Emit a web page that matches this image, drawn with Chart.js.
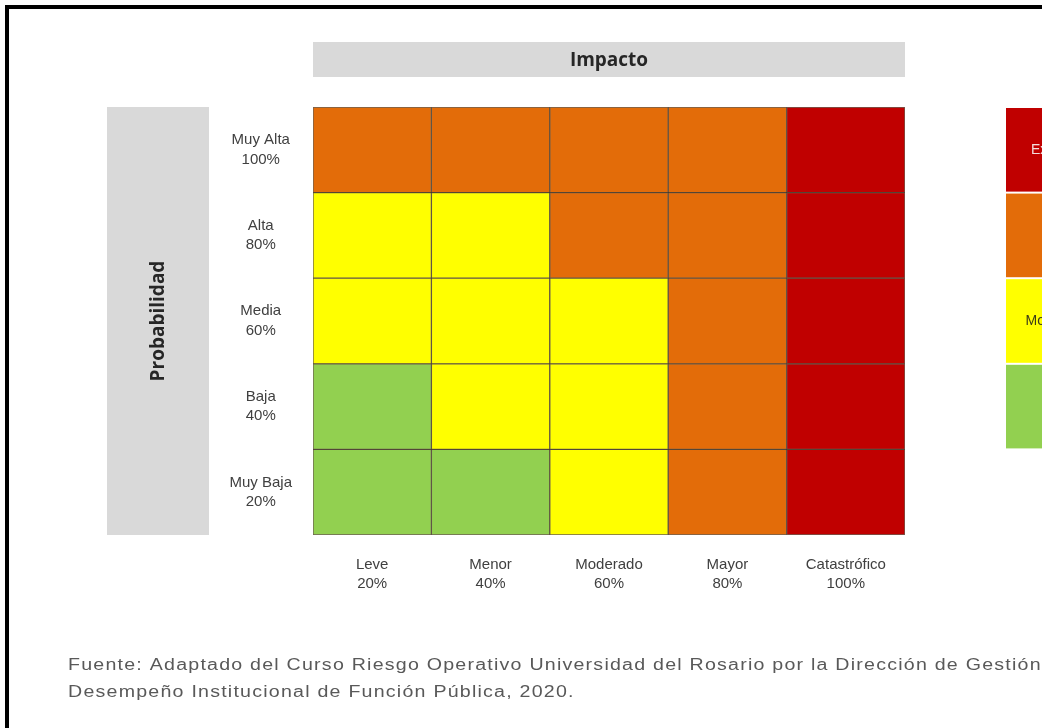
<!DOCTYPE html>
<html>
<head>
<meta charset="utf-8">
<script src="https://cdn.jsdelivr.net/npm/chart.js@4.4.1/dist/chart.umd.min.js"></script>
<style>
  body { margin: 0; background: #fff; }
  #wrap { position: relative; width: 1042px; height: 728px; overflow: hidden; }
</style>
</head>
<body>
<div id="wrap"><canvas id="matriz" width="1042" height="728"></canvas></div>
<script>
// Ejes
const impacto = ["Leve", "Menor", "Moderado", "Mayor", "Catastrófico"];
const impactoPct = ["20%", "40%", "60%", "80%", "100%"];
const probabilidad = ["Muy Alta", "Alta", "Media", "Baja", "Muy Baja"]; // de arriba a abajo
const probabilidadPct = ["100%", "80%", "60%", "40%", "20%"];

// Zonas de riesgo
const zonas = ["Extremo", "Alto", "Moderado", "Bajo"];
const zonaColor = { Extremo: "#c00000", Alto: "#e36c09", Moderado: "#ffff00", Bajo: "#92d050" };
const zonaTexto = { Extremo: "#f4dede", Alto: "#ffffff", Moderado: "#3a3a1a", Bajo: "#333333" };

// Matriz (filas de arriba a abajo, columnas Leve -> Catastrófico)
const matriz = [
    ["Alto", "Alto", "Alto", "Alto", "Extremo"],
    ["Moderado", "Moderado", "Alto", "Alto", "Extremo"],
    ["Moderado", "Moderado", "Moderado", "Alto", "Extremo"],
    ["Bajo", "Moderado", "Moderado", "Alto", "Extremo"],
    ["Bajo", "Bajo", "Moderado", "Alto", "Extremo"]
];

const fuente = [
    "Fuente: Adaptado del Curso Riesgo Operativo Universidad del Rosario por la Dirección de Gestión",
    "Desempeño Institucional de Función Pública, 2020."
];

const labelFont = { family: "'Liberation Sans Narrow', 'Liberation Sans', Arial", size: 15 };

// una serie por fila, desde abajo
const datasets = probabilidad.slice().reverse().map((p, i) => {
    const fila = matriz[probabilidad.length - 1 - i];
    return {
        label: p,
        data: impacto.map(() => 1),
        backgroundColor: fila.map(z => zonaColor[z]),
        borderColor: "rgba(45, 30, 10, 0.7)",
        borderWidth: 1,
        borderSkipped: false,
        barPercentage: 1,
        categoryPercentage: 1
    };
});

// Fondo, cajas grises y marco
const decoracion = {
    id: "decoracion",
    beforeDraw(chart) {
        const { ctx, chartArea: a } = chart;
        ctx.save();
        ctx.fillStyle = "#fff";
        ctx.fillRect(0, 0, chart.width, chart.height);

        ctx.fillStyle = "#d9d9d9";
        ctx.fillRect(a.left, 42, a.right - a.left, 35);
        ctx.fillRect(107, a.top, 102, a.bottom - a.top);

        ctx.fillStyle = "#262626";
        ctx.font = "bold 19px 'Open Sans'";
        ctx.textAlign = "center";
        ctx.textBaseline = "middle";
        ctx.fillText("Impacto", (a.left + a.right) / 2, 61);

        ctx.translate(159, (a.top + a.bottom) / 2);
        ctx.rotate(-Math.PI / 2);
        ctx.fillText("Probabilidad", 0, 0);
        ctx.restore();
    },
    afterDraw(chart) {
        const { ctx } = chart;
        const y = chart.scales.y;
        ctx.save();

        // leyenda de zonas a la derecha
        zonas.forEach((z, i) => {
            const top = y.getPixelForValue(5 - i);
            const bottom = y.getPixelForValue(4 - i);
            ctx.fillStyle = zonaColor[z];
            ctx.fillRect(1006, top + 1, 100, bottom - top - 2);
            ctx.fillStyle = zonaTexto[z];
            ctx.font = "14px 'Liberation Sans', Arial";
            ctx.textAlign = "center";
            ctx.textBaseline = "middle";
            ctx.fillText(z, 1057, (top + bottom) / 2);
        });

        // fuente (texto algo ensanchado, como en la imagen)
        ctx.save();
        ctx.fillStyle = "#595959";
        ctx.font = "16px 'Liberation Sans', Arial";
        ctx.textAlign = "left";
        ctx.textBaseline = "alphabetic";
        ctx.letterSpacing = "1px";
        ctx.translate(68, 0);
        ctx.scale(1.225, 1);
        ctx.fillText(fuente[0], 0, 670);
        ctx.fillText(fuente[1], 0, 697);
        ctx.restore();

        // marco negro
        ctx.fillStyle = "#000";
        ctx.fillRect(5, 5, chart.width - 5, 4);
        ctx.fillRect(5, 5, 4, chart.height - 5);
        ctx.restore();
    }
};

new Chart(document.getElementById("matriz"), {
    type: "bar",
    data: { labels: impacto, datasets },
    options: {
        responsive: false,
        devicePixelRatio: 1,
        animation: false,
        layout: { padding: { left: 209, top: 107, right: 137, bottom: 133 } },
        plugins: { legend: { display: false }, tooltip: { enabled: false } },
        scales: {
            x: {
                stacked: true,
                grid: { display: false, drawTicks: false },
                border: { display: false },
                afterFit: s => { s.height = 60; },
                ticks: {
                    color: "#404040",
                    font: { ...labelFont, lineHeight: 1.3 },
                    padding: 20,
                    maxRotation: 0,
                    autoSkip: false,
                    callback: (v, i) => [impacto[i], impactoPct[i]]
                }
            },
            y: {
                stacked: true,
                min: 0,
                max: 5,
                grid: { display: false, drawTicks: false },
                border: { display: false },
                afterFit: s => { s.width = 104; },
                afterBuildTicks: s => { s.ticks = probabilidad.map((_, i) => ({ value: i + 0.5 })); },
                ticks: {
                    color: "#404040",
                    font: { ...labelFont, lineHeight: 1.3 },
                    crossAlign: "center",
                    padding: 21,
                    callback: (v, i) => {
                        const r = probabilidad.length - 1 - i;
                        return [probabilidad[r], probabilidadPct[r]];
                    }
                }
            }
        }
    },
    plugins: [decoracion]
});
</script>
</body>
</html>
